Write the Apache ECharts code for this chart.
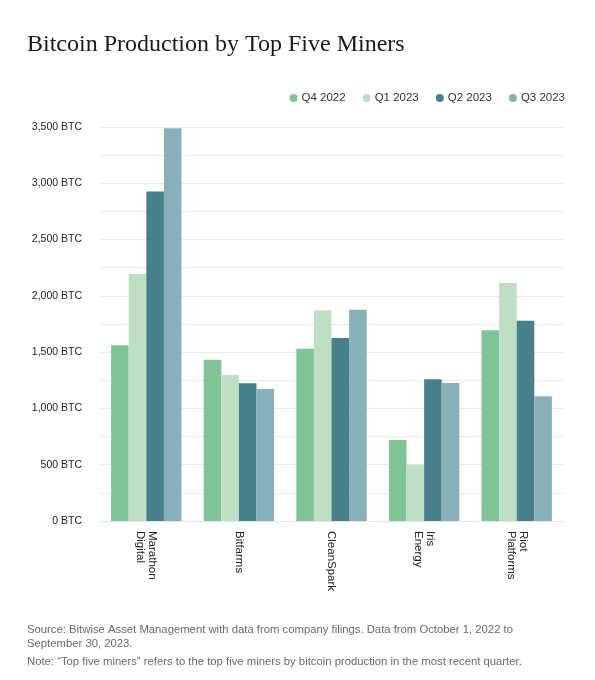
<!DOCTYPE html>
<html><head><meta charset="utf-8">
<script src="https://cdn.jsdelivr.net/npm/echarts@6/dist/echarts.min.js"></script>
<style>html,body{margin:0;padding:0;background:#fff}#c{width:595px;height:680px}</style>
</head><body><div id="c"></div>
<script>
const categories = ['Marathon\nDigital', 'Bitfarms', 'CleanSpark', 'Iris\nEnergy', 'Riot\nPlatforms'];
const seriesNames = ['Q4 2022', 'Q1 2023', 'Q2 2023', 'Q3 2023'];
const q4_2022 = [1562, 1433, 1531, 720, 1694];
const q1_2023 = [2195, 1297, 1872, 503, 2114];
const q2_2023 = [2926, 1223, 1626, 1259, 1779];
const q3_2023 = [3490, 1172, 1877, 1226, 1108];
const colors = ['#7fc496', '#bfdfc4', '#47808b', '#88b0ba'];

const chart = echarts.init(document.getElementById('c'), null, {renderer: 'canvas'});
const sans = '"Liberation Sans", Arial, sans-serif';
const values = [q4_2022, q1_2023, q2_2023, q3_2023];
chart.setOption({
  animation: false,
  title: [
    {text: 'Bitcoin Production by Top Five Miners', left: 22, top: 28,
     textStyle: {fontFamily: '"Liberation Serif", serif', fontSize: 24, fontWeight: 'normal', color: '#1a1a1a'}},
    {text: 'Source: Bitwise Asset Management with data from company filings. Data from October 1, 2022 to\nSeptember 30, 2023.',
     left: 22, top: 618,
     textStyle: {fontFamily: sans, fontSize: 11.3, fontWeight: 'normal', color: '#6a6a6a', lineHeight: 14}},
    {text: 'Note: \u201cTop five miners\u201d refers to the top five miners by bitcoin production in the most recent quarter.',
     left: 22, top: 651,
     textStyle: {fontFamily: sans, fontSize: 11.3, fontWeight: 'normal', color: '#6a6a6a'}}
  ],
  legend: {
    right: 25, top: 87, itemGap: 17, itemWidth: 8, itemHeight: 8, icon: 'circle',
    textStyle: {fontFamily: sans, fontSize: 11.5, color: '#333', padding: [0, 0, 0, -1]}
  },
  grid: {left: 100, right: 32, top: 127, bottom: 159, containLabel: false},
  xAxis: {
    type: 'category', data: categories,
    axisLine: {show: true, lineStyle: {color: '#e6e6e6'}},
    axisTick: {show: false},
    axisLabel: {rotate: -90, margin: 10, fontFamily: sans, fontSize: 11.5, color: '#222', lineHeight: 12, align: 'left', verticalAlign: 'middle'}
  },
  yAxis: {
    type: 'value', min: 0, max: 3500, interval: 250,
    axisLine: {show: false}, axisTick: {show: false},
    splitLine: {lineStyle: {color: '#ebebeb'}},
    axisLabel: {
      margin: 18, fontFamily: sans, fontSize: 10.5, color: '#222',
      formatter: v => (v % 500 === 0 ? v.toLocaleString('en-US') + ' BTC' : '')
    }
  },
  series: seriesNames.map((n, i) => ({
    name: n, type: 'bar', data: values[i],
    barGap: '0%', barCategoryGap: '24%',
    itemStyle: {color: colors[i]}
  }))
});
</script></body></html>
